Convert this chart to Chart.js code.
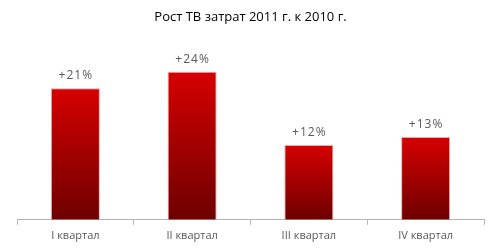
<!DOCTYPE html>
<html>
<head>
<meta charset="utf-8">
<script src="https://cdn.jsdelivr.net/npm/chart.js@4"></script>
<style>
  html, body { margin: 0; padding: 0; background: #fff; }
  #wrap { width: 500px; height: 250px; }
</style>
</head>
<body>
<div id="wrap"><canvas id="myChart"></canvas></div>
<script>
'use strict';

let quarters = ['I квартал', 'II квартал', 'III квартал', 'IV квартал'];
let growth = [21.3, 24, 12.1, 13.4];
let growthLabels = ['+21%', '+24%', '+12%', '+13%'];

// draws "+21%" etc. above each bar
const topLabels = {
  id: 'topLabels',
  afterDatasetsDraw(chart) {
    let ctx = chart.ctx;
    let meta = chart.getDatasetMeta(0);
    ctx.save();
    ctx.font = '12px "Open Sans", sans-serif';
    ctx.letterSpacing = '1px';
    ctx.fillStyle = '#595959';
    ctx.textAlign = 'center';
    ctx.textBaseline = 'alphabetic';
    meta.data.forEach(function (bar, i) {
      ctx.fillText(growthLabels[i], bar.x + 0.5, bar.y - 9);
    });
    ctx.restore();
  }
};

function barGradient(context) {
  let chart = context.chart;
  if (!chart.chartArea) return '#b00000';
  let yScale = chart.scales.y;
  let top = yScale.getPixelForValue(context.raw);
  let bottom = yScale.getPixelForValue(0);
  let g = chart.ctx.createLinearGradient(0, top, 0, bottom);
  g.addColorStop(0, '#d60000');
  g.addColorStop(1, '#6e0000');
  return g;
}

let ctx = document.getElementById('myChart').getContext('2d');
let myChart = new Chart(ctx, {
  type: 'bar',
  data: {
    labels: quarters,
    datasets: [{
      data: growth,
      backgroundColor: barGradient,
      borderColor: 'rgba(235, 130, 130, 0.7)',
      borderWidth: 1,
      borderSkipped: 'bottom',
      categoryPercentage: 0.42,
      barPercentage: 1
    }]
  },
  plugins: [topLabels],
  options: {
    responsive: true,
    maintainAspectRatio: false,
    animation: false,
    layout: { padding: { left: 17, right: 16, top: 0, bottom: 4 } },
    plugins: {
      legend: { display: false },
      tooltip: { enabled: false },
      title: {
        display: true,
        text: 'Рост ТВ затрат 2011 г. к 2010 г.',
        color: '#000',
        font: { family: '"Open Sans", sans-serif', size: 13, weight: 'normal' },
        padding: { top: 9, bottom: 10 }
      }
    },
    scales: {
      x: {
        offset: true,
        grid: {
          offset: true,
          drawOnChartArea: false,
          color: '#b5b5b5',
          tickLength: 5
        },
        border: { color: '#b5b5b5' },
        ticks: {
          color: '#595959',
          padding: 4,
          font: { family: '"Open Sans", sans-serif', size: 11 }
        }
      },
      y: {
        display: false,
        min: 0,
        max: 30
      }
    }
  }
});
</script>
</body>
</html>
